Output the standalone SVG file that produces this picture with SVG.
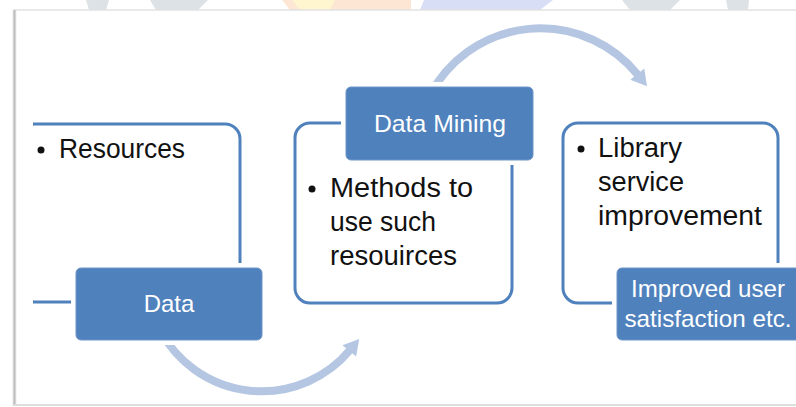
<svg xmlns="http://www.w3.org/2000/svg" width="796" height="407" viewBox="0 0 796 407">
  <defs>
    <style>
      .outline { fill: none; stroke: #4f81bd; stroke-width: 3; }
      .halo { fill: #ffffff; }
      .label { fill: #4f81bd; stroke: #6e95c8; stroke-width: 1; }
      .ltxt { font-family: "Liberation Sans", Arial, sans-serif; font-size: 24px; fill: #ffffff; text-anchor: middle; }
      .btxt { font-family: "Liberation Sans", Arial, sans-serif; font-size: 27px; fill: #111111; }
      .bullet { fill: #111111; }
      .arc { fill: none; stroke: #b5c6e3; stroke-width: 8; }
      .wm { stroke: none; }
    </style>
    <marker id="head" markerUnits="userSpaceOnUse" markerWidth="20" markerHeight="20" refX="1" refY="0" viewBox="0 -9 16 18" orient="auto">
      <path d="M0,-8 L14,0 L0,8 z" fill="#b5c6e3"/>
    </marker>
    <clipPath id="leftclip">
      <rect x="33" y="0" width="400" height="407"/>
    </clipPath>
    <clipPath id="topstrip">
      <rect x="0" y="0" width="796" height="10"/>
    </clipPath>
    <linearGradient id="lshadow" x1="0" y1="0" x2="1" y2="0">
      <stop offset="0" stop-color="#e6e6e6"/>
      <stop offset="0.5" stop-color="#bdbdbd"/>
      <stop offset="1" stop-color="#ececec"/>
    </linearGradient>
  </defs>

  <!-- background and faint watermark above the panel -->
  <rect x="0" y="0" width="796" height="407" fill="#ffffff"/>
  <g clip-path="url(#topstrip)" class="wm">
    <polygon points="86,0 109,0 106,10 89,10" fill="#dce2e5"/>
    <polygon points="150,0 208,0 198,10 156,10" fill="#dce2e5"/>
    <polygon points="282,0 411,0 411,10 290,10" fill="#fde6d3"/>
    <polygon points="292,0 335,0 330,10 300,10" fill="#fff6cf"/>
    <polygon points="424,0 553,0 540,10 420,10" fill="#d8def6"/>
    <polygon points="622,0 680,0 670,10 630,10" fill="#dce2e5"/>
    <polygon points="726,0 749,0 748,10 728,10" fill="#dce2e5"/>
  </g>

  <!-- panel -->
  <rect x="14" y="10" width="800" height="395" fill="#ffffff" stroke="#e2e2e2" stroke-width="1.5"/>
  <rect x="12.5" y="10" width="4" height="396" fill="url(#lshadow)"/>
  <rect x="14" y="404" width="782" height="2" fill="#dedede"/>

  <!-- connectors -->
  <g id="connectors">
    <path class="arc" d="M160,330 A115,115 0 0 0 350,350" marker-end="url(#head)"/>
    <path class="arc" d="M430,95 A125,125 0 0 1 638,75" marker-end="url(#head)"/>
  </g>

  <!-- node 1 -->
  <g id="node-data">
    <rect class="outline" x="20" y="124" width="220" height="178" rx="15" clip-path="url(#leftclip)"/>
    <circle class="bullet" cx="41" cy="150" r="3.5"/>
    <text class="btxt" x="59" y="158" textLength="126" lengthAdjust="spacingAndGlyphs">Resources</text>
    <rect class="halo" x="71" y="263" width="196" height="82" rx="7"/>
    <rect class="label" x="76" y="268" width="186" height="72" rx="5"/>
    <text class="ltxt" x="169" y="312">Data</text>
  </g>

  <!-- node 2 -->
  <g id="node-mining">
    <rect class="outline" x="295" y="123" width="217" height="180" rx="15"/>
    <circle class="bullet" cx="312" cy="189" r="3.5"/>
    <text class="btxt" x="330" y="197" textLength="143" lengthAdjust="spacingAndGlyphs">Methods to</text>
    <text class="btxt" x="330" y="231" textLength="106" lengthAdjust="spacingAndGlyphs">use such</text>
    <text class="btxt" x="330" y="265" textLength="127" lengthAdjust="spacingAndGlyphs">resouirces</text>
    <rect class="halo" x="341" y="82" width="197" height="83" rx="7"/>
    <rect class="label" x="346" y="87" width="187" height="73" rx="5"/>
    <text class="ltxt" x="440" y="132" textLength="132" lengthAdjust="spacingAndGlyphs">Data Mining</text>
  </g>

  <!-- node 3 -->
  <g id="node-improvement">
    <rect class="outline" x="563" y="123" width="215" height="180" rx="15"/>
    <circle class="bullet" cx="581" cy="149" r="3.5"/>
    <text class="btxt" x="598" y="157" textLength="84" lengthAdjust="spacingAndGlyphs">Library</text>
    <text class="btxt" x="598" y="191" textLength="86" lengthAdjust="spacingAndGlyphs">service</text>
    <text class="btxt" x="598" y="225" textLength="164" lengthAdjust="spacingAndGlyphs">improvement</text>
    <rect class="halo" x="612" y="263" width="200" height="82" rx="7"/>
    <rect class="label" x="617" y="268" width="190" height="72" rx="5"/>
    <text class="ltxt" x="708" y="297" textLength="154" lengthAdjust="spacingAndGlyphs">Improved user</text>
    <text class="ltxt" x="708" y="327" textLength="167" lengthAdjust="spacingAndGlyphs">satisfaction etc.</text>
  </g>
</svg>
